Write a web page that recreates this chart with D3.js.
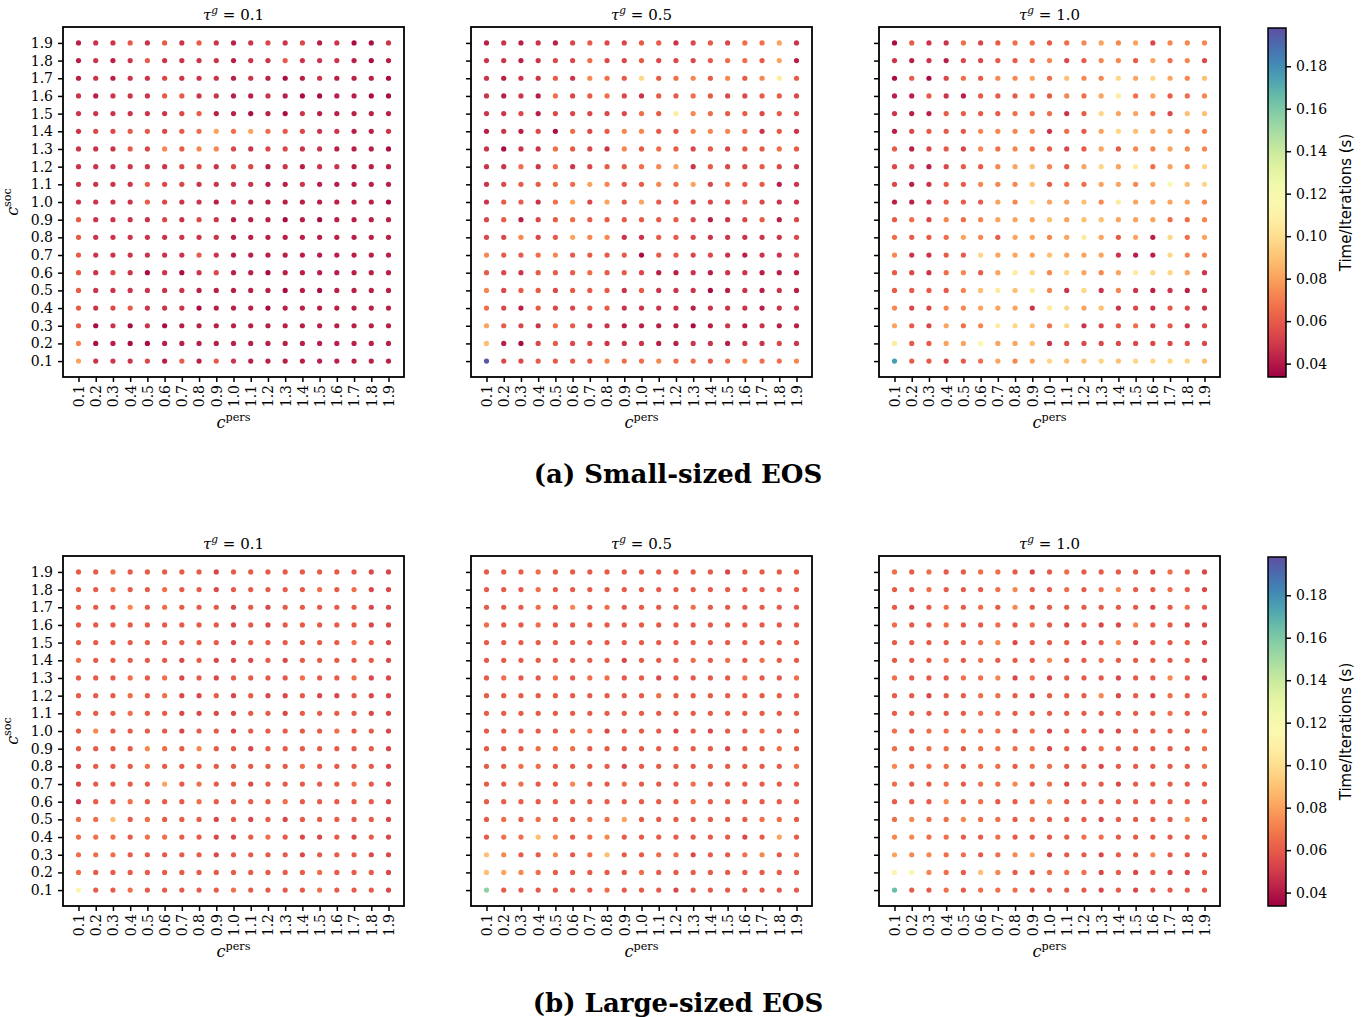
<!DOCTYPE html>
<html><head><meta charset="utf-8">
<script src="https://cdn.jsdelivr.net/npm/d3@7"></script>
<style>body{margin:0;background:#fff}</style>
</head><body><svg id="c" width="1365" height="1017"></svg>
<script>
// c^pers values (columns) and c^soc values (rows, top to bottom)
const cPers = [0.1,0.2,0.3,0.4,0.5,0.6,0.7,0.8,0.9,1.0,1.1,1.2,1.3,1.4,1.5,1.6,1.7,1.8,1.9];
const cSoc  = [1.9,1.8,1.7,1.6,1.5,1.4,1.3,1.2,1.1,1.0,0.9,0.8,0.7,0.6,0.5,0.4,0.3,0.2,0.1];
const tauValues = ["0.1","0.5","1.0"];
const captions = ["(a) Small-sized EOS","(b) Large-sized EOS"];
const cbTicks = [0.04,0.06,0.08,0.10,0.12,0.14,0.16,0.18];
const cbDomain = [0.0337,0.198];

// Time/Iterations (s), rows c^soc = 1.9 ... 0.1, columns c^pers = 0.1 ... 1.9
const smallT01 = [
[.042,.048,.048,.060,.048,.060,.048,.060,.048,.042,.048,.054,.048,.054,.042,.048,.037,.037,.048],
[.042,.048,.042,.048,.060,.048,.048,.048,.048,.042,.048,.048,.060,.048,.048,.048,.042,.037,.042],
[.042,.048,.042,.048,.048,.054,.048,.048,.048,.042,.048,.042,.037,.042,.048,.042,.042,.042,.037],
[.048,.042,.048,.048,.048,.060,.060,.048,.048,.042,.042,.048,.042,.037,.037,.042,.042,.037,.037],
[.048,.048,.048,.048,.048,.048,.054,.060,.042,.042,.037,.042,.037,.048,.042,.042,.042,.042,.042],
[.048,.054,.054,.060,.060,.054,.060,.066,.081,.066,.081,.066,.060,.054,.048,.048,.042,.042,.048],
[.048,.048,.048,.060,.054,.073,.060,.073,.073,.054,.048,.054,.054,.048,.048,.042,.042,.042,.037],
[.048,.048,.048,.048,.048,.048,.054,.054,.048,.054,.054,.042,.048,.042,.048,.048,.042,.042,.042],
[.048,.048,.048,.048,.060,.054,.054,.048,.048,.048,.048,.042,.042,.048,.042,.042,.042,.042,.042],
[.048,.048,.048,.048,.060,.054,.048,.048,.042,.048,.042,.042,.042,.042,.042,.042,.042,.042,.037],
[.060,.048,.048,.048,.048,.054,.048,.054,.048,.042,.042,.042,.037,.042,.037,.042,.042,.042,.042],
[.060,.048,.048,.048,.048,.048,.048,.048,.048,.042,.042,.042,.042,.042,.042,.042,.042,.042,.042],
[.060,.048,.048,.048,.048,.048,.048,.060,.048,.042,.042,.042,.042,.042,.042,.042,.042,.042,.042],
[.060,.048,.054,.048,.037,.048,.037,.048,.054,.042,.042,.037,.042,.042,.042,.042,.042,.042,.042],
[.060,.048,.048,.048,.048,.048,.048,.042,.042,.042,.042,.042,.037,.042,.037,.042,.042,.042,.042],
[.060,.048,.054,.060,.048,.048,.048,.037,.042,.042,.042,.037,.042,.042,.042,.042,.042,.042,.042],
[.060,.037,.048,.037,.048,.037,.042,.042,.042,.042,.042,.042,.042,.042,.042,.042,.042,.042,.042],
[.073,.037,.042,.037,.037,.042,.042,.042,.042,.042,.042,.042,.042,.042,.042,.042,.042,.042,.042],
[.081,.048,.048,.048,.054,.042,.060,.042,.060,.048,.042,.042,.042,.042,.042,.042,.042,.042,.042]
];
const smallT05 = [
[.042,.048,.042,.048,.042,.054,.060,.054,.054,.060,.060,.048,.054,.060,.054,.066,.066,.081,.048],
[.048,.048,.042,.048,.054,.054,.066,.054,.054,.060,.054,.054,.054,.060,.066,.066,.060,.081,.042],
[.048,.042,.048,.048,.060,.048,.073,.066,.060,.097,.060,.066,.073,.060,.073,.060,.073,.106,.060],
[.048,.042,.048,.042,.066,.054,.060,.066,.054,.048,.060,.060,.066,.060,.054,.054,.060,.060,.054],
[.048,.048,.054,.042,.054,.054,.054,.054,.054,.066,.060,.106,.073,.066,.060,.060,.054,.060,.054],
[.042,.048,.042,.054,.037,.066,.054,.060,.073,.073,.060,.060,.073,.073,.073,.066,.048,.060,.048],
[.048,.037,.048,.048,.066,.060,.054,.048,.073,.060,.066,.060,.054,.060,.054,.060,.060,.066,.060],
[.048,.048,.066,.048,.066,.048,.054,.060,.060,.066,.073,.081,.048,.060,.054,.054,.060,.054,.048],
[.048,.054,.060,.060,.066,.066,.081,.073,.060,.060,.073,.066,.081,.054,.066,.060,.060,.042,.048],
[.048,.060,.060,.048,.066,.081,.054,.081,.060,.081,.060,.060,.054,.054,.054,.060,.054,.048,.048],
[.054,.060,.042,.054,.060,.066,.060,.060,.060,.060,.060,.060,.054,.042,.048,.054,.060,.042,.054],
[.054,.054,.073,.054,.060,.081,.073,.073,.048,.048,.060,.060,.054,.048,.048,.048,.048,.048,.054],
[.073,.060,.060,.066,.073,.060,.060,.060,.060,.037,.060,.060,.054,.054,.048,.042,.048,.048,.054],
[.060,.054,.048,.060,.060,.060,.066,.060,.060,.054,.042,.042,.048,.042,.048,.048,.042,.042,.042],
[.073,.054,.060,.060,.054,.060,.060,.060,.048,.060,.048,.048,.048,.037,.042,.048,.042,.048,.042],
[.066,.054,.042,.060,.054,.054,.060,.060,.048,.048,.048,.048,.042,.048,.048,.048,.042,.048,.048],
[.081,.060,.054,.048,.066,.060,.048,.048,.042,.042,.042,.042,.037,.042,.048,.042,.048,.042,.042],
[.089,.042,.037,.054,.060,.054,.054,.048,.048,.048,.042,.042,.048,.048,.042,.048,.048,.054,.048],
[.196,.054,.054,.060,.060,.060,.060,.073,.066,.066,.073,.066,.066,.060,.066,.073,.066,.066,.073]
];
const smallT10 = [
[.037,.060,.048,.048,.066,.054,.060,.066,.066,.060,.066,.073,.081,.073,.081,.054,.073,.073,.073],
[.048,.042,.048,.042,.054,.054,.060,.060,.066,.073,.054,.060,.073,.073,.060,.081,.066,.073,.054],
[.037,.060,.037,.054,.066,.060,.073,.073,.081,.066,.089,.073,.073,.097,.081,.097,.081,.073,.089],
[.042,.042,.060,.048,.042,.060,.060,.060,.066,.060,.073,.066,.081,.106,.066,.081,.060,.066,.073],
[.048,.042,.042,.060,.060,.060,.060,.066,.066,.066,.048,.060,.097,.081,.081,.066,.054,.089,.089],
[.042,.054,.060,.060,.060,.073,.073,.073,.073,.048,.066,.060,.081,.097,.089,.081,.081,.073,.073],
[.060,.042,.054,.060,.054,.073,.066,.073,.066,.060,.054,.060,.081,.060,.073,.073,.081,.073,.073],
[.054,.054,.042,.054,.060,.060,.073,.081,.089,.073,.060,.081,.097,.081,.106,.066,.081,.073,.097],
[.054,.042,.048,.060,.060,.073,.073,.073,.089,.060,.066,.066,.081,.081,.073,.081,.115,.089,.097],
[.042,.042,.048,.060,.060,.060,.081,.073,.106,.081,.081,.089,.073,.106,.081,.081,.081,.081,.073],
[.060,.066,.054,.073,.066,.073,.081,.081,.081,.089,.081,.089,.089,.081,.081,.081,.066,.066,.073],
[.066,.060,.060,.066,.081,.073,.060,.081,.081,.073,.081,.106,.081,.060,.081,.042,.097,.066,.081],
[.073,.048,.048,.060,.060,.097,.081,.081,.081,.089,.081,.081,.081,.048,.042,.042,.097,.073,.073],
[.060,.054,.048,.066,.073,.060,.081,.106,.097,.073,.097,.081,.073,.081,.106,.097,.097,.081,.048],
[.060,.060,.060,.060,.073,.089,.106,.089,.106,.073,.048,.097,.048,.073,.048,.042,.048,.042,.048],
[.073,.054,.054,.073,.073,.081,.081,.081,.048,.106,.097,.081,.089,.048,.054,.048,.060,.054,.048],
[.081,.060,.054,.081,.066,.073,.106,.097,.089,.066,.097,.048,.054,.060,.066,.054,.060,.048,.054],
[.106,.060,.060,.081,.081,.115,.081,.081,.089,.048,.054,.054,.054,.054,.054,.054,.054,.054,.054],
[.176,.060,.060,.054,.060,.066,.081,.073,.081,.097,.089,.089,.097,.089,.097,.097,.097,.097,.089]
];
const largeT01 = [
[.060,.060,.066,.060,.060,.060,.060,.060,.054,.060,.060,.060,.060,.060,.060,.060,.060,.054,.054],
[.060,.060,.066,.060,.060,.066,.060,.060,.054,.060,.060,.060,.060,.060,.066,.060,.066,.054,.054],
[.060,.060,.060,.073,.060,.066,.060,.060,.060,.054,.060,.054,.060,.060,.060,.060,.060,.054,.054],
[.060,.060,.060,.060,.060,.060,.060,.060,.060,.054,.060,.054,.060,.060,.060,.060,.060,.054,.054],
[.060,.060,.060,.060,.060,.060,.060,.060,.060,.054,.060,.060,.060,.060,.060,.060,.066,.060,.054],
[.066,.060,.060,.060,.060,.060,.054,.060,.054,.054,.054,.060,.054,.060,.060,.060,.060,.060,.054],
[.060,.060,.060,.066,.060,.066,.054,.060,.054,.060,.060,.060,.060,.066,.060,.060,.066,.054,.054],
[.060,.060,.060,.066,.060,.066,.054,.054,.060,.054,.060,.054,.054,.060,.054,.054,.060,.054,.054],
[.060,.060,.060,.066,.060,.060,.054,.054,.054,.054,.060,.060,.054,.060,.060,.060,.060,.054,.054],
[.060,.073,.060,.060,.060,.060,.054,.060,.060,.054,.060,.060,.060,.060,.060,.066,.060,.060,.054],
[.060,.060,.060,.060,.073,.066,.060,.073,.060,.060,.054,.060,.060,.060,.060,.060,.060,.060,.054],
[.054,.060,.060,.060,.066,.060,.060,.060,.060,.060,.060,.060,.060,.066,.060,.060,.060,.060,.054],
[.054,.060,.060,.060,.060,.081,.060,.066,.060,.060,.054,.060,.060,.060,.060,.060,.066,.060,.054],
[.048,.060,.060,.066,.060,.060,.060,.066,.060,.060,.060,.060,.066,.060,.060,.060,.060,.060,.054],
[.066,.066,.089,.060,.066,.060,.060,.060,.054,.060,.054,.060,.054,.060,.060,.060,.060,.060,.054],
[.066,.066,.066,.060,.066,.066,.060,.060,.054,.054,.060,.066,.060,.054,.054,.060,.054,.060,.054],
[.066,.066,.066,.060,.060,.060,.060,.060,.054,.060,.060,.060,.060,.054,.060,.060,.060,.054,.054],
[.066,.060,.060,.060,.060,.060,.060,.060,.060,.060,.060,.060,.060,.060,.066,.060,.060,.060,.054],
[.113,.060,.060,.066,.060,.060,.060,.060,.060,.066,.060,.060,.060,.060,.066,.060,.060,.060,.054]
];
const largeT05 = [
[.060,.060,.060,.066,.060,.060,.060,.060,.060,.060,.060,.060,.060,.060,.054,.060,.060,.060,.060],
[.060,.060,.060,.066,.060,.060,.060,.060,.060,.060,.060,.060,.060,.060,.060,.060,.060,.060,.060],
[.060,.060,.060,.066,.060,.073,.060,.066,.060,.060,.060,.060,.066,.060,.060,.060,.060,.060,.060],
[.066,.060,.060,.066,.060,.060,.060,.060,.060,.060,.060,.060,.060,.060,.060,.060,.060,.060,.060],
[.060,.060,.060,.060,.060,.060,.060,.060,.060,.060,.060,.060,.060,.060,.060,.060,.060,.060,.060],
[.060,.060,.060,.060,.060,.060,.060,.060,.054,.060,.060,.060,.066,.060,.066,.060,.066,.060,.060],
[.060,.066,.060,.060,.066,.060,.066,.066,.060,.060,.054,.060,.060,.060,.060,.066,.060,.060,.066],
[.060,.060,.060,.060,.060,.060,.060,.060,.060,.060,.066,.060,.060,.060,.060,.060,.060,.060,.060],
[.060,.060,.060,.060,.060,.060,.060,.060,.060,.060,.060,.060,.060,.060,.060,.060,.060,.060,.060],
[.060,.060,.060,.060,.060,.066,.066,.054,.060,.060,.060,.054,.060,.054,.060,.060,.066,.060,.060],
[.060,.060,.060,.066,.066,.066,.060,.060,.060,.060,.060,.060,.060,.060,.054,.060,.060,.066,.060],
[.060,.060,.066,.066,.060,.060,.060,.060,.054,.060,.060,.060,.060,.060,.060,.060,.060,.060,.066],
[.060,.060,.066,.060,.060,.073,.060,.060,.066,.060,.060,.060,.066,.060,.060,.060,.060,.060,.060],
[.060,.060,.060,.060,.060,.060,.060,.060,.060,.060,.060,.060,.066,.060,.060,.060,.060,.060,.060],
[.060,.066,.060,.066,.060,.060,.066,.066,.081,.060,.060,.060,.060,.060,.060,.060,.066,.066,.060],
[.060,.066,.066,.089,.073,.060,.066,.073,.060,.060,.060,.060,.060,.060,.060,.054,.060,.081,.060],
[.089,.073,.060,.060,.073,.060,.066,.089,.060,.060,.066,.066,.054,.060,.060,.066,.073,.060,.066],
[.089,.081,.073,.066,.060,.060,.060,.060,.060,.066,.060,.060,.060,.060,.060,.060,.060,.060,.060],
[.155,.060,.060,.060,.060,.060,.060,.066,.060,.060,.060,.054,.060,.060,.060,.060,.060,.060,.060]
];
const largeT10 = [
[.066,.060,.066,.060,.060,.066,.066,.060,.054,.060,.066,.060,.060,.060,.060,.054,.066,.060,.054],
[.060,.060,.066,.060,.060,.060,.066,.073,.060,.060,.066,.060,.066,.073,.060,.060,.066,.060,.054],
[.060,.054,.060,.066,.060,.066,.060,.073,.060,.060,.060,.060,.060,.060,.060,.054,.060,.066,.060],
[.066,.060,.060,.066,.060,.060,.066,.060,.066,.060,.054,.060,.054,.054,.073,.060,.060,.054,.054],
[.060,.060,.060,.060,.060,.066,.073,.054,.060,.060,.060,.054,.060,.073,.054,.060,.060,.060,.054],
[.060,.060,.060,.066,.060,.066,.060,.060,.060,.073,.060,.060,.066,.060,.060,.060,.060,.060,.054],
[.066,.060,.060,.060,.066,.066,.073,.054,.066,.054,.060,.060,.060,.054,.060,.060,.073,.060,.048],
[.060,.060,.054,.060,.060,.066,.066,.060,.054,.060,.060,.060,.073,.054,.060,.054,.066,.060,.066],
[.060,.060,.060,.060,.060,.066,.066,.060,.060,.060,.060,.060,.060,.060,.060,.060,.066,.060,.060],
[.066,.060,.066,.066,.066,.066,.066,.060,.066,.054,.060,.060,.054,.054,.060,.060,.060,.060,.066],
[.066,.060,.066,.066,.060,.066,.066,.066,.066,.054,.060,.054,.066,.060,.060,.060,.060,.060,.066],
[.073,.066,.066,.066,.060,.066,.066,.060,.066,.066,.060,.060,.054,.060,.060,.060,.060,.060,.066],
[.066,.060,.060,.066,.060,.066,.066,.073,.060,.066,.054,.060,.060,.054,.060,.060,.060,.060,.060],
[.060,.060,.060,.073,.060,.066,.060,.060,.066,.073,.060,.060,.060,.060,.060,.060,.060,.060,.060],
[.066,.073,.066,.066,.073,.066,.066,.060,.066,.060,.060,.060,.054,.060,.060,.060,.060,.073,.060],
[.073,.073,.066,.066,.060,.060,.066,.060,.060,.060,.060,.066,.066,.060,.060,.060,.060,.060,.066],
[.081,.073,.073,.066,.066,.060,.066,.073,.081,.054,.060,.060,.054,.060,.060,.073,.060,.060,.060],
[.113,.113,.073,.066,.060,.089,.073,.060,.060,.066,.066,.066,.054,.060,.054,.060,.054,.054,.060],
[.165,.060,.060,.066,.060,.066,.066,.066,.060,.060,.060,.060,.054,.060,.054,.060,.060,.060,.060]
];

const panelData = [[smallT01, smallT05, smallT10],[largeT01, largeT05, largeT10]];

const svg = d3.select("#c");
const SERIF = "'DejaVu Serif', serif";
const color = d3.scaleSequential(d3.interpolateSpectral).domain(cbDomain);

const lefts = [63, 471, 879], tops = [27, 556], W = 341, H = 350;
const x = d3.scaleLinear().domain([0.01, 1.99]).range([0, W]);
const y = d3.scaleLinear().domain([0.01, 1.99]).range([H, 0]);
const fmt = d3.format(".1f");

function mathLabel(sel, base, sup, rest, size) {
  sel.append("tspan").attr("font-style", "italic").text(base);
  sel.append("tspan").attr("font-style", sup.italic ? "italic" : "normal")
     .attr("font-size", size * 0.7).attr("dy", -size * 0.42).text(sup.t);
  if (rest) sel.append("tspan").attr("dy", size * 0.42).text(rest);
}

panelData.forEach((rowPanels, r) => {
  rowPanels.forEach((data, c) => {
    const g = svg.append("g").attr("transform", `translate(${lefts[c]},${tops[r]})`);
    const cells = [];
    data.forEach((row, i) => row.forEach((v, j) => cells.push({xv: cPers[j], yv: cSoc[i], v})));
    g.selectAll("circle").data(cells).join("circle")
      .attr("cx", d => x(d.xv)).attr("cy", d => y(d.yv)).attr("r", 2.6)
      .attr("fill", d => color(d.v));

    // x axis
    const xa = g.append("g").attr("transform", `translate(0,${H})`)
      .call(d3.axisBottom(x).tickValues(cPers).tickFormat(fmt).tickSize(5).tickSizeOuter(0));
    xa.select(".domain").remove();
    xa.selectAll(".tick line").attr("stroke", "#000").attr("stroke-width", 1.5);
    xa.selectAll(".tick text").attr("transform", "rotate(-90)").attr("x", -8).attr("y", 0)
      .attr("dy", "0.35em").attr("text-anchor", "end")
      .attr("font-family", SERIF).attr("font-size", 14).attr("fill", "#000");

    // y axis
    const ya = g.append("g")
      .call(d3.axisLeft(y).tickValues(cSoc).tickFormat(fmt).tickSize(5).tickPadding(5).tickSizeOuter(0));
    ya.select(".domain").remove();
    ya.selectAll(".tick line").attr("stroke", "#000").attr("stroke-width", 1.5);
    if (c === 0) {
      ya.selectAll(".tick text").attr("font-family", SERIF).attr("font-size", 14).attr("fill", "#000");
    } else {
      ya.selectAll(".tick text").remove();
    }

    // frame
    g.append("rect").attr("x", 0).attr("y", 0).attr("width", W).attr("height", H)
      .attr("fill", "none").attr("stroke", "#000").attr("stroke-width", 1.8);

    // title
    const t = g.append("text").attr("x", W / 2).attr("y", -7).attr("text-anchor", "middle")
      .attr("font-family", SERIF).attr("font-size", 15);
    mathLabel(t, "τ", {t: "g", italic: true}, " = " + tauValues[c], 15);

    // x label
    const xl = g.append("text").attr("x", W / 2).attr("y", H + 51).attr("text-anchor", "middle")
      .attr("font-family", SERIF).attr("font-size", 16);
    mathLabel(xl, "c", {t: "pers", italic: false}, null, 16);

    // y label
    if (c === 0) {
      const yl = g.append("text").attr("transform", `translate(-45,${H / 2}) rotate(-90)`)
        .attr("text-anchor", "middle").attr("font-family", SERIF).attr("font-size", 16);
      mathLabel(yl, "c", {t: "soc", italic: false}, null, 16);
    }
  });

  // colorbar
  const cbX = 1268, cbW = 18, cbTop = tops[r] + 1, cbH = 349;
  const gid = "grad" + r;
  const grad = svg.append("defs").append("linearGradient").attr("id", gid)
    .attr("x1", 0).attr("y1", 1).attr("x2", 0).attr("y2", 0);
  d3.range(0, 1.0001, 0.05).forEach(s => grad.append("stop")
    .attr("offset", s).attr("stop-color", color(cbDomain[0] + s * (cbDomain[1] - cbDomain[0]))));
  const cb = svg.append("g").attr("transform", `translate(${cbX},${cbTop})`);
  cb.append("rect").attr("width", cbW).attr("height", cbH).attr("fill", `url(#${gid})`)
    .attr("stroke", "#000").attr("stroke-width", 1.5);
  const cbScale = d3.scaleLinear().domain(cbDomain).range([cbH, 0]);
  const cba = cb.append("g").attr("transform", `translate(${cbW},0)`)
    .call(d3.axisRight(cbScale).tickValues(cbTicks).tickFormat(d3.format(".2f")).tickSize(5).tickPadding(5).tickSizeOuter(0));
  cba.select(".domain").remove();
  cba.selectAll(".tick line").attr("stroke", "#000").attr("stroke-width", 1.5);
  cba.selectAll(".tick text").attr("font-family", SERIF).attr("font-size", 14).attr("fill", "#000");
  cb.append("text").attr("transform", `translate(83,${cbH / 2}) rotate(-90)`)
    .attr("text-anchor", "middle").attr("font-family", "'DejaVu Sans', sans-serif").attr("font-size", 15)
    .text("Time/Iterations (s)");

  // caption
  svg.append("text").attr("x", 678).attr("y", tops[r] + 456).attr("text-anchor", "middle")
    .attr("font-family", SERIF).attr("font-weight", "bold").attr("font-size", 26)
    .text(captions[r]);
});
</script></body></html>
